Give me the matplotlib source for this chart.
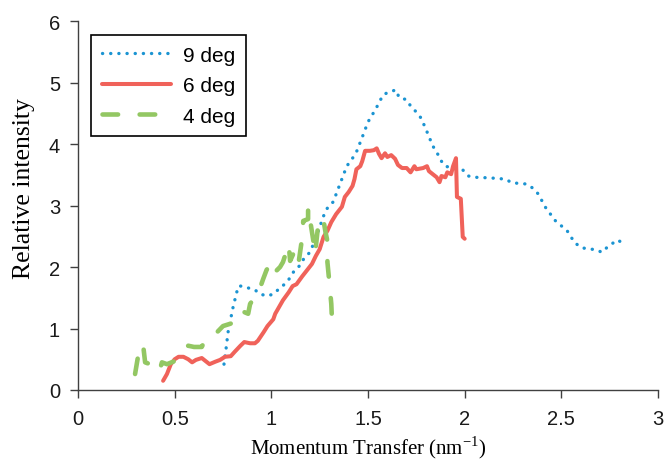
import matplotlib
matplotlib.use("Agg")
import matplotlib.pyplot as plt

plt.rcParams["mathtext.fontset"] = "custom"
plt.rcParams["mathtext.rm"] = "Liberation Serif"

# 9 deg (blue dotted)
q9 = [0.755, 0.766, 0.776, 0.80, 0.82, 0.83, 0.85, 0.88, 0.915, 0.94, 0.98, 1.01,
      1.045, 1.076, 1.10, 1.12, 1.15, 1.17, 1.20, 1.23, 1.27, 1.29, 1.32, 1.355,
      1.39, 1.42, 1.44, 1.47, 1.50, 1.54, 1.578, 1.61, 1.645, 1.66, 1.70, 1.72,
      1.75, 1.775, 1.805, 1.835, 1.86, 1.88, 1.90, 1.95, 1.99, 2.02, 2.05, 2.13,
      2.21, 2.245, 2.32, 2.354, 2.38, 2.42, 2.47, 2.53, 2.57, 2.61, 2.68, 2.71,
      2.74, 2.79, 2.83]
i9 = [0.42, 0.68, 0.94, 1.32, 1.58, 1.69, 1.69, 1.66, 1.63, 1.56, 1.53, 1.56,
      1.66, 1.74, 1.84, 1.95, 2.03, 2.15, 2.24, 2.47, 2.83, 2.96, 3.06, 3.35,
      3.64, 3.77, 3.87, 4.11, 4.36, 4.57, 4.80, 4.85, 4.88, 4.76, 4.72, 4.62,
      4.52, 4.42, 4.20, 3.97, 3.84, 3.72, 3.64, 3.60, 3.58, 3.48, 3.46, 3.45,
      3.43, 3.37, 3.35, 3.28, 3.19, 2.96, 2.75, 2.59, 2.39, 2.31, 2.28, 2.24,
      2.33, 2.44, 2.37]

# 6 deg (red solid)
q6 = [0.44, 0.46, 0.48, 0.50, 0.52, 0.545, 0.57, 0.59, 0.61, 0.64, 0.66, 0.68,
      0.71, 0.735, 0.76, 0.79, 0.81, 0.84, 0.86, 0.89, 0.915, 0.93, 0.96, 0.98,
      1.01, 1.02, 1.04, 1.06, 1.09, 1.11, 1.13, 1.16, 1.185, 1.21, 1.23, 1.25,
      1.27, 1.29, 1.31, 1.335, 1.365, 1.38, 1.40, 1.42, 1.43, 1.44, 1.46, 1.47,
      1.485, 1.51, 1.53, 1.545, 1.557, 1.57, 1.588, 1.60, 1.62, 1.64, 1.655,
      1.676, 1.70, 1.72, 1.74, 1.75, 1.785, 1.805, 1.815, 1.835, 1.855, 1.87,
      1.88, 1.90, 1.91, 1.93, 1.94, 1.955, 1.96, 1.98, 1.99, 2.0]
i6 = [0.15, 0.26, 0.42, 0.50, 0.54, 0.54, 0.50, 0.45, 0.49, 0.52, 0.47, 0.42,
      0.46, 0.49, 0.54, 0.55, 0.62, 0.72, 0.78, 0.76, 0.76, 0.80, 0.94, 1.04,
      1.15, 1.24, 1.35, 1.46, 1.59, 1.69, 1.72, 1.85, 1.95, 2.05, 2.18, 2.29,
      2.49, 2.59, 2.73, 2.86, 2.98, 3.14, 3.22, 3.32, 3.43, 3.59, 3.64, 3.72,
      3.89, 3.89, 3.90, 3.93, 3.84, 3.77, 3.85, 3.79, 3.82, 3.76, 3.66,
      3.61, 3.61, 3.54, 3.64, 3.59, 3.61, 3.64, 3.56, 3.51, 3.46, 3.38,
      3.48, 3.46, 3.54, 3.51, 3.64, 3.77, 3.14, 3.11, 2.49, 2.46]

# 4 deg (green dashed)
q4 = [0.295, 0.31, 0.336, 0.347, 0.372, 0.383, 0.424, 0.434, 0.46, 0.50, 0.528,
      0.553, 0.57, 0.60, 0.64, 0.66, 0.71, 0.75, 0.78, 0.81, 0.83, 0.85, 0.88,
      0.89, 0.936, 0.957, 0.975, 0.993, 1.01, 1.045, 1.06, 1.09, 1.097, 1.12,
      1.14, 1.16, 1.165, 1.19, 1.19, 1.216, 1.226, 1.24, 1.267, 1.28, 1.29,
      1.29, 1.30, 1.31, 1.314]
i4 = [0.26, 0.54, 0.75, 0.45, 0.42, 0.31, 0.34, 0.45, 0.42, 0.47, 0.58,
      0.67, 0.72, 0.70, 0.70, 0.83, 0.91, 1.04, 1.07, 1.10, 1.27, 1.28, 1.24,
      1.40, 1.61, 1.80, 1.95, 2.05, 1.89, 2.0, 2.08, 2.37, 2.10, 2.26,
      2.05, 2.49, 2.75, 2.78, 2.97, 2.45, 2.21, 2.62, 2.81, 2.57, 2.42,
      2.08, 1.75, 1.40, 1.11]

xticks = [0, 0.5, 1, 1.5, 2, 2.5, 3]
xticklabels = ["0", "0.5", "1", "1.5", "2", "2.5", "3"]
yticks = [0, 1, 2, 3, 4, 5, 6]

fig = plt.figure(figsize=(6.67, 4.6), dpi=100)
ax = fig.add_axes([0.117, 0.15, 0.8695, 0.802])

ax.plot(q9, i9, color="#1b94d2", lw=2.4, linestyle=(0, (0.05, 2.4)),
        dash_capstyle="round", label="9 deg")
ax.plot(q6, i6, color="#f0625a", lw=2.9, solid_capstyle="round",
        solid_joinstyle="round", label="6 deg")
ax.plot(q4, i4, color="#93c763", lw=3.3, linestyle=(0, (3.4, 4.7)),
        dash_capstyle="round", label="4 deg")

ax.set_xlim(0, 3)
ax.set_ylim(0, 6)
ax.set_xticks(xticks)
ax.set_xticklabels(xticklabels)
ax.set_yticks(yticks)
for s in ["top", "right"]:
    ax.spines[s].set_visible(False)
for s in ["left", "bottom"]:
    ax.spines[s].set_color("#404040")
    ax.spines[s].set_linewidth(1.0)
ax.tick_params(direction="out", length=6, width=1.0, color="#404040",
               labelsize=14.5, labelcolor="#1a1a1a")
ax.tick_params(axis="x", pad=8)
ax.tick_params(axis="y", pad=7)
for lab in ax.get_xticklabels() + ax.get_yticklabels():
    lab.set_family("Liberation Sans")

ax.set_xlabel(r"Momentum Transfer (nm$^{\mathregular{-1}}$)",
              family="Liberation Serif", fontsize=15)
ax.xaxis.set_label_coords(0.5, -0.118)
ax.set_ylabel("Relative intensity", family="Liberation Serif", fontsize=18.5)
ax.yaxis.set_label_coords(-0.075, 0.55)

leg = ax.legend(loc="upper left", bbox_to_anchor=(0.005, 0.99),
                prop={"family": "Liberation Sans", "size": 15},
                handlelength=3.3, handletextpad=0.6, labelspacing=0.55,
                borderpad=0.5, fancybox=False, framealpha=1)
leg.get_frame().set_edgecolor("black")
leg.get_frame().set_linewidth(1.2)

fig.savefig("out.png", dpi=100)
